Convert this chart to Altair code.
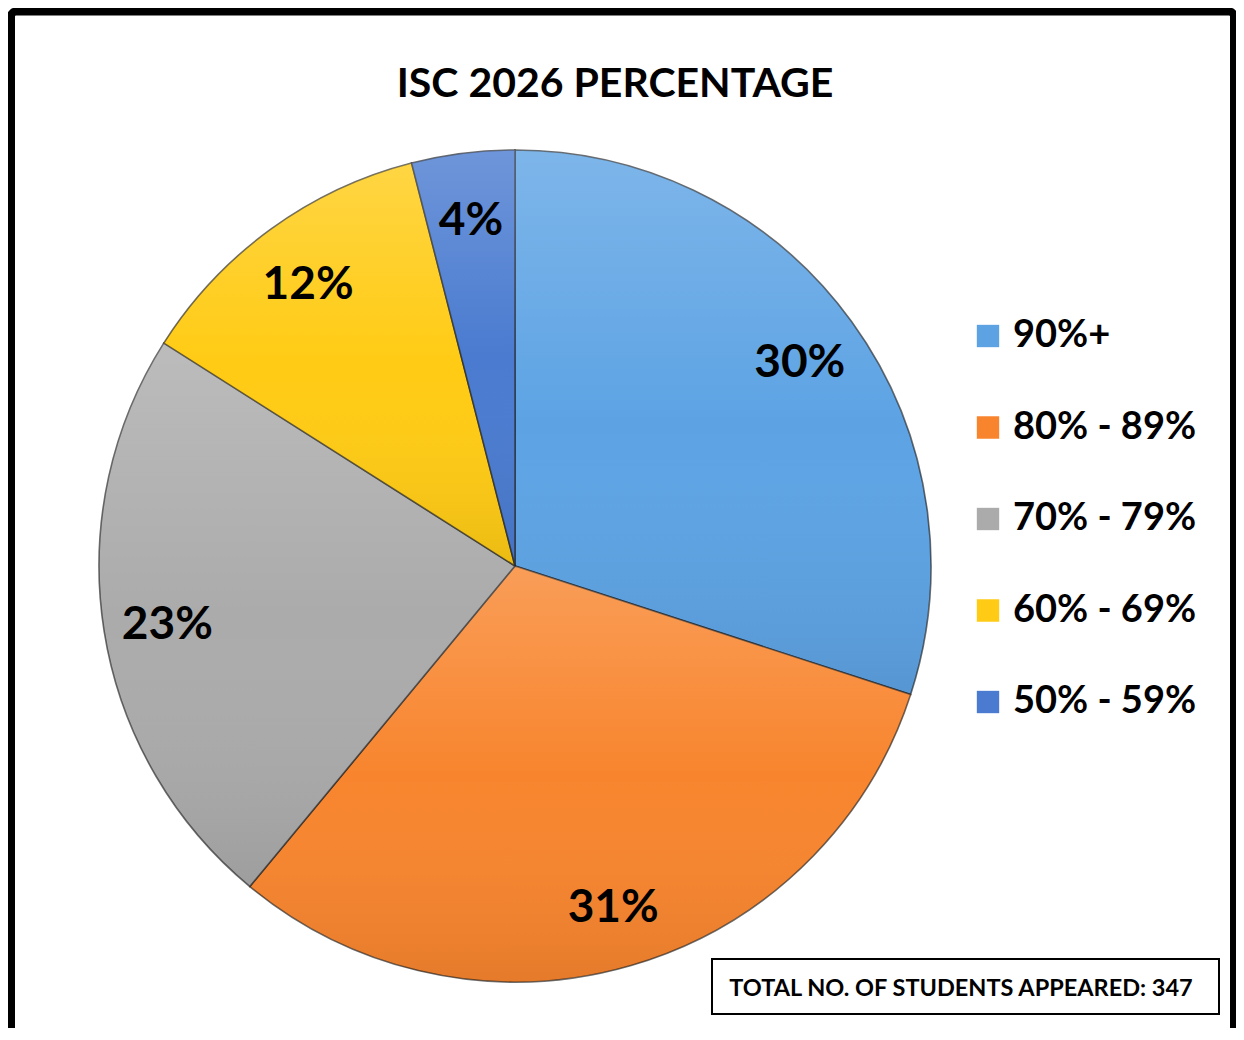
import altair as alt
import pandas as pd

# ---- data ----
categories = ["90%+", "80% - 89%", "70% - 79%", "60% - 69%", "50% - 59%"]
percent = [30, 31, 23, 12, 4]
slice_colors = ["#5DA3E4", "#F8852E", "#ABABAB", "#FFCB14", "#4A7BD0"]
title_text = "ISC 2026 PERCENTAGE"
note_text = "TOTAL NO. OF STUDENTS APPEARED: 347"

df = pd.DataFrame({
    "category": categories,
    "percent": percent,
    "idx": list(range(len(categories))),
    "label": [f"{p}%" for p in percent],
})

W, H = 1228, 1020
CX, CY, R = 507, 558, 416
FONT = "Lato"

base = alt.Chart(df).encode(
    theta=alt.Theta("percent:Q", stack=True),
    order=alt.Order("idx:Q"),
)

pie = base.mark_arc(outerRadius=R, stroke="#1e1e1e", strokeWidth=1.6, strokeOpacity=0.65).encode(
    x=alt.value(CX), y=alt.value(CY),
    color=alt.Color(
        "category:N",
        scale=alt.Scale(domain=categories, range=slice_colors),
        sort=categories,
        legend=alt.Legend(
            title=None,
            orient="none",
            legendX=961,
            legendY=309,
            symbolType="square",
            symbolSize=500,
            symbolStrokeWidth=0,
            labelFont=FONT,
            labelFontWeight="bold",
            labelFontSize=38,
            labelColor="black",
            labelOffset=6,
            clipHeight=38,
            rowPadding=53.5,
            labelLimit=400,
        ),
    ),
)

shade = base.mark_arc(
    outerRadius=R,
    fill=alt.Gradient(
        gradient="linear",
        x1=0, y1=0, x2=0, y2=1,
        stops=[
            alt.GradientStop(offset=0, color="rgba(255,255,255,0.2)"),
            alt.GradientStop(offset=0.5, color="rgba(255,255,255,0.0)"),
            alt.GradientStop(offset=1, color="rgba(0,0,0,0.08)"),
        ],
    ),
).encode(x=alt.value(CX), y=alt.value(CY))

labels = base.mark_text(
    radius=352, font=FONT, fontWeight="bold", fontSize=46, color="black", baseline="middle", dy=4
).encode(x=alt.value(CX), y=alt.value(CY), text="label:N")

border = alt.Chart(pd.DataFrame({"t": [title_text]})).mark_rect(
    fill=None, stroke="black", strokeWidth=8, cornerRadius=5
).encode(x=alt.value(3), x2=alt.value(1226), y=alt.value(3.5), y2=alt.value(1060))

title = alt.Chart(pd.DataFrame({"t": [title_text]})).mark_text(
    font=FONT, fontWeight="bold", fontSize=41, color="black", align="center", baseline="alphabetic"
).encode(x=alt.value(607), y=alt.value(89), text="t:N")

note_box = alt.Chart(pd.DataFrame({"t": [note_text]})).mark_rect(
    fill="white", stroke="black", strokeWidth=2
).encode(x=alt.value(704), x2=alt.value(1211), y=alt.value(951), y2=alt.value(1006))

note = alt.Chart(pd.DataFrame({"t": [note_text]})).mark_text(
    font=FONT, fontWeight="bold", fontSize=23.5, color="black", align="center", baseline="alphabetic"
).encode(x=alt.value(953), y=alt.value(988), text="t:N")

chart = alt.layer(pie, shade, labels, border, title, note_box, note).properties(
    width=W, height=H, padding=0, autosize=alt.AutoSizeParams(type="none"),
    background="white",
).configure_view(stroke=None)

chart.save("out.html", embed_options={"renderer": "svg", "actions": False})
